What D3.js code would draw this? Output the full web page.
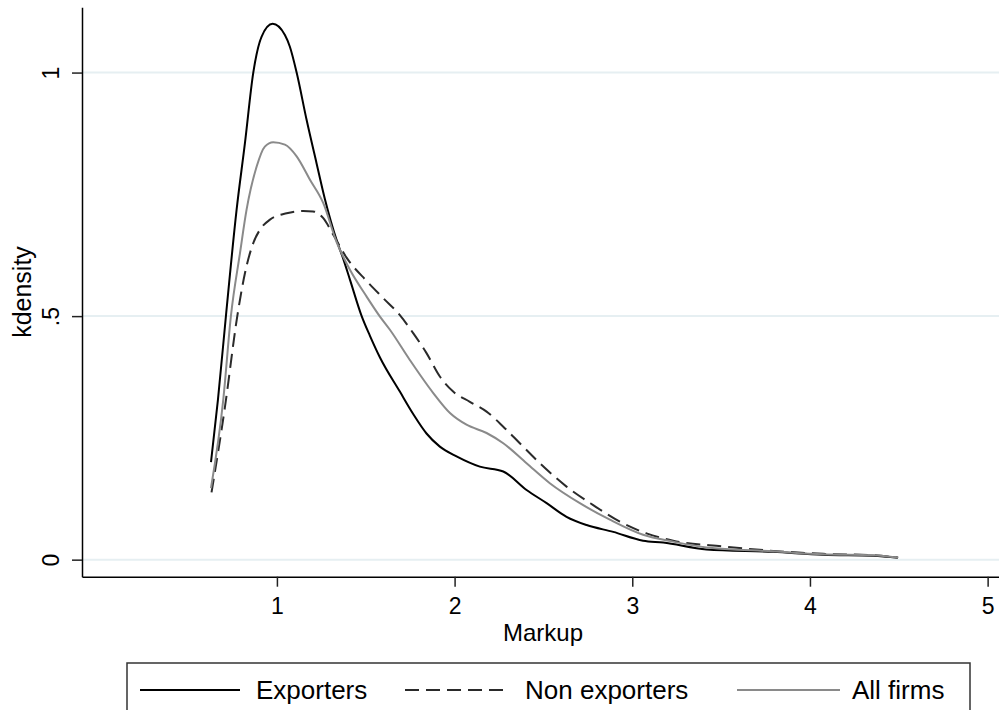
<!DOCTYPE html>
<html>
<head>
<meta charset="utf-8">
<script src="https://cdn.jsdelivr.net/npm/d3@7"></script>
<style>
  body { margin: 0; background: #fff; }
  svg { font-family: "Liberation Sans", Arial, sans-serif; }
</style>
</head>
<body>
<div id="chart"></div>
<script>
// Kernel density estimates of markup
const exportersX = [0.629, 0.668, 0.713, 0.773, 0.820, 0.867, 0.914, 0.976, 1.045, 1.073, 1.111, 1.167, 1.223, 1.271, 1.336, 1.373, 1.411, 1.477, 1.523, 1.580, 1.692, 1.767, 1.842, 1.917, 2.011, 2.142, 2.274, 2.405, 2.518, 2.630, 2.743, 2.893, 3.061, 3.174, 3.418, 3.793, 4.074, 4.356, 4.496];
const exportersY = [0.200, 0.328, 0.500, 0.718, 0.855, 1.000, 1.074, 1.100, 1.077, 1.053, 1.000, 0.903, 0.814, 0.739, 0.656, 0.618, 0.575, 0.500, 0.460, 0.415, 0.345, 0.299, 0.259, 0.232, 0.212, 0.191, 0.181, 0.143, 0.116, 0.088, 0.071, 0.057, 0.039, 0.035, 0.021, 0.016, 0.010, 0.008, 0.004];

const nonExportersX = [0.632, 0.707, 0.777, 0.820, 0.867, 0.904, 0.961, 1.055, 1.148, 1.204, 1.261, 1.317, 1.392, 1.505, 1.598, 1.692, 1.767, 1.842, 1.917, 1.992, 2.086, 2.180, 2.274, 2.367, 2.480, 2.630, 2.780, 2.930, 3.080, 3.230, 3.512, 3.793, 4.074, 4.356, 4.496];
const nonExportersY = [0.138, 0.312, 0.500, 0.588, 0.650, 0.677, 0.698, 0.711, 0.716, 0.715, 0.701, 0.667, 0.620, 0.572, 0.537, 0.502, 0.465, 0.424, 0.376, 0.345, 0.324, 0.304, 0.273, 0.239, 0.198, 0.150, 0.112, 0.078, 0.054, 0.039, 0.027, 0.018, 0.012, 0.009, 0.004];

const allFirmsX = [0.629, 0.698, 0.741, 0.792, 0.829, 0.886, 0.932, 0.979, 1.045, 1.111, 1.186, 1.261, 1.336, 1.411, 1.505, 1.580, 1.636, 1.748, 1.880, 1.974, 2.067, 2.180, 2.274, 2.405, 2.536, 2.705, 2.874, 3.061, 3.230, 3.418, 3.793, 4.074, 4.356, 4.496];
const allFirmsY = [0.147, 0.328, 0.500, 0.629, 0.718, 0.807, 0.848, 0.857, 0.852, 0.828, 0.780, 0.732, 0.652, 0.595, 0.540, 0.499, 0.472, 0.410, 0.342, 0.301, 0.277, 0.260, 0.239, 0.198, 0.157, 0.116, 0.082, 0.051, 0.037, 0.025, 0.017, 0.011, 0.009, 0.004];

const xTicks = [1, 2, 3, 4, 5];
const yTicks = [0, 0.5, 1];
const yTickLabels = ["0", ".5", "1"];
const seriesNames = ["Exporters", "Non exporters", "All firms"];

const width = 999;
const height = 710;

const svg = d3.select("#chart").append("svg")
  .attr("width", width)
  .attr("height", height);

// Scales (axis lines run a little past the data like Stata does)
const x = d3.scaleLinear().domain([-0.097, 5.064]).range([82, 999]);
const y = d3.scaleLinear().domain([-0.035, 1.134]).range([576.7, 7.3]);

// Grid lines
svg.append("g")
  .selectAll("line")
  .data(yTicks)
  .enter()
  .append("line")
  .attr("x1", 83)
  .attr("x2", 999)
  .attr("y1", (d) => y(d))
  .attr("y2", (d) => y(d))
  .attr("stroke", "#e6eff2")
  .attr("stroke-width", 2);

// Curves
const series = [
  { name: seriesNames[0], xs: exportersX, ys: exportersY, color: "#000", dash: null },
  { name: seriesNames[1], xs: nonExportersX, ys: nonExportersY, color: "#2a2a2a", dash: "14,7" },
  { name: seriesNames[2], xs: allFirmsX, ys: allFirmsY, color: "#8a8a8a", dash: null }
];

const line = d3.line()
  .x((d) => x(d[0]))
  .y((d) => y(d[1]))
  .curve(d3.curveMonotoneX);

svg.append("g")
  .selectAll("path")
  .data(series)
  .enter()
  .append("path")
  .attr("fill", "none")
  .attr("stroke", (d) => d.color)
  .attr("stroke-width", 2)
  .attr("stroke-dasharray", (d) => d.dash)
  .attr("d", (d) => line(d.xs.map((v, i) => [v, d.ys[i]])));

// X axis
const xAxis = svg.append("g")
  .attr("transform", "translate(0," + y.range()[0] + ")")
  .call(d3.axisBottom(x).tickValues(xTicks).tickFormat(d3.format("d")).tickSize(10).tickPadding(11).tickSizeOuter(0));
xAxis.select(".domain").attr("stroke", "#000").attr("stroke-width", 1.5);
xAxis.selectAll(".tick line").attr("stroke", "#222").attr("stroke-width", 1.5);
xAxis.selectAll("text").attr("font-size", 23).attr("fill", "#000");

// Y axis
const yAxis = svg.append("g")
  .attr("transform", "translate(" + x.range()[0] + ",0)")
  .call(d3.axisLeft(y).tickValues(yTicks).tickFormat((d, i) => yTickLabels[i]).tickSize(10).tickSizeOuter(0));
yAxis.select(".domain").attr("stroke", "#000").attr("stroke-width", 1.5);
yAxis.selectAll(".tick line").attr("stroke", "#222").attr("stroke-width", 1.5);
yAxis.selectAll("text")
  .attr("font-size", 23)
  .attr("fill", "#000")
  .attr("text-anchor", "middle")
  .attr("dy", 0)
  .attr("x", 0)
  .attr("y", -23)
  .attr("transform", "rotate(-90)");

// Axis titles
svg.append("text")
  .attr("x", 543)
  .attr("y", 641)
  .attr("text-anchor", "middle")
  .attr("font-size", 24)
  .text("Markup");

svg.append("text")
  .attr("transform", "translate(31,292) rotate(-90)")
  .attr("text-anchor", "middle")
  .attr("font-size", 25)
  .text("kdensity");

// Legend
const legend = svg.append("g");
legend.append("rect")
  .attr("x", 127)
  .attr("y", 663)
  .attr("width", 843)
  .attr("height", 60)
  .attr("fill", "#fff")
  .attr("stroke", "#333")
  .attr("stroke-width", 1.5);

const legendItems = [
  { x1: 140, x2: 240, tx: 256 },
  { x1: 405, x2: 510, tx: 525 },
  { x1: 737, x2: 840, tx: 852 }
];

legendItems.forEach((item, i) => {
  legend.append("line")
    .attr("x1", item.x1)
    .attr("x2", item.x2)
    .attr("y1", 690)
    .attr("y2", 690)
    .attr("stroke", series[i].color)
    .attr("stroke-width", 2)
    .attr("stroke-dasharray", series[i].dash);
  legend.append("text")
    .attr("x", item.tx)
    .attr("y", 699)
    .attr("font-size", 26)
    .text(series[i].name);
});
</script>
</body>
</html>
